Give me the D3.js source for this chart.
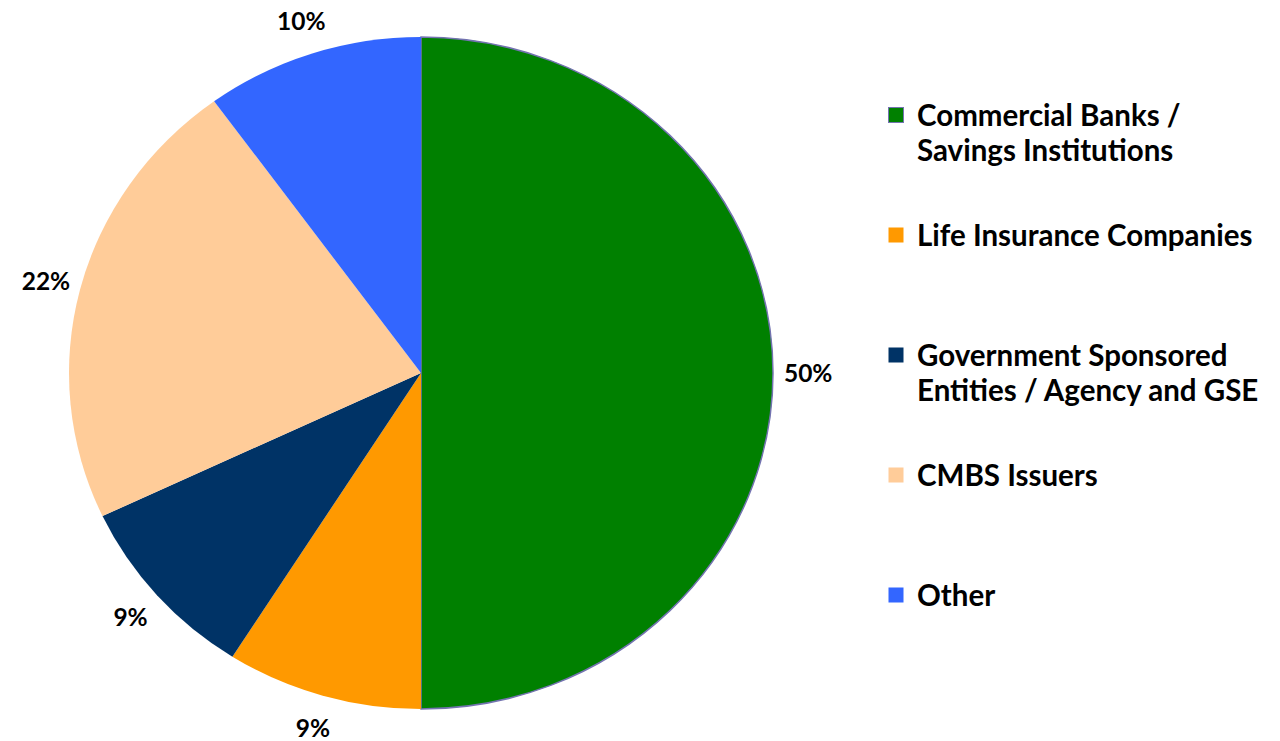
<!DOCTYPE html>
<html>
<head>
<meta charset="utf-8">
<script src="https://cdn.jsdelivr.net/npm/d3@7"></script>
<style>
  html, body { margin: 0; padding: 0; background: #fff; }
  svg { display: block; }
  text { font-family: Lato, "Open Sans", sans-serif; font-weight: bold; fill: #000; }
</style>
</head>
<body>
<svg id="chart" width="1280" height="741"></svg>
<script>
// data
const categories = [
  "Commercial Banks / Savings Institutions",
  "Life Insurance Companies",
  "Government Sponsored Entities / Agency and GSE",
  "CMBS Issuers",
  "Other",
];
const legendLines = [
  ["Commercial Banks /", "Savings Institutions"],
  ["Life Insurance Companies"],
  ["Government Sponsored", "Entities / Agency and GSE"],
  ["CMBS Issuers"],
  ["Other"],
];
const shares = [50, 9, 9, 22, 10];
const colors = ["#008000", "#FF9900", "#003366", "#FFCC99", "#3366FF"];

const cx = 421, cy = 373;
const rx = 352, ry = 336; // pie is a little wider than tall

const svg = d3.select("#chart");

const pie = d3.pie().sort(null).value((d) => d.value);
const arcs = pie(shares.map((v, i) => ({ value: v, i })));

const arc = d3.arc().innerRadius(0).outerRadius(ry);
const labelArc = d3.arc().innerRadius(ry * 1.1).outerRadius(ry * 1.1);

const g = svg.append("g").attr("transform", `translate(${cx},${cy}) scale(${rx / ry},1)`);

g.selectAll("path")
  .data(arcs)
  .join("path")
  .attr("d", arc)
  .attr("fill", (d) => colors[d.data.i])
  .attr("stroke", (d) => (d.data.i === 0 ? "#7373b0" : "none"))
  .attr("stroke-width", 1.5)
  .attr("vector-effect", "non-scaling-stroke");

// percentage labels, placed outside the slices
svg.append("g")
  .selectAll("text")
  .data(arcs)
  .join("text")
  .attr("x", (d) => cx + labelArc.centroid(d)[0] * (rx / ry))
  .attr("y", (d) => cy + labelArc.centroid(d)[1])
  .attr("dy", "0.36em")
  .attr("text-anchor", "middle")
  .attr("font-size", 24.5)
  .text((d) => `${d.data.value}%`);

// legend
const legendY = d3.scalePoint().domain(d3.range(categories.length)).range([115, 595]);

const lg = svg.append("g")
  .selectAll("g")
  .data(categories)
  .join("g")
  .attr("transform", (d, i) => `translate(888,${legendY(i)})`);

lg.append("rect")
  .attr("x", 0.5)
  .attr("y", -7.5)
  .attr("width", 15)
  .attr("height", 15)
  .attr("fill", (d, i) => colors[i])
  .attr("stroke", (d, i) => (i === 0 ? "#7373b0" : "none"))
  .attr("stroke-width", 1);

lg.append("text")
  .attr("font-size", 29.5)
  .selectAll("tspan")
  .data((d, i) => legendLines[i])
  .join("tspan")
  .attr("x", 29)
  .attr("y", (d, j) => 11 + j * 35)
  .text((d) => d);
</script>
</body>
</html>
